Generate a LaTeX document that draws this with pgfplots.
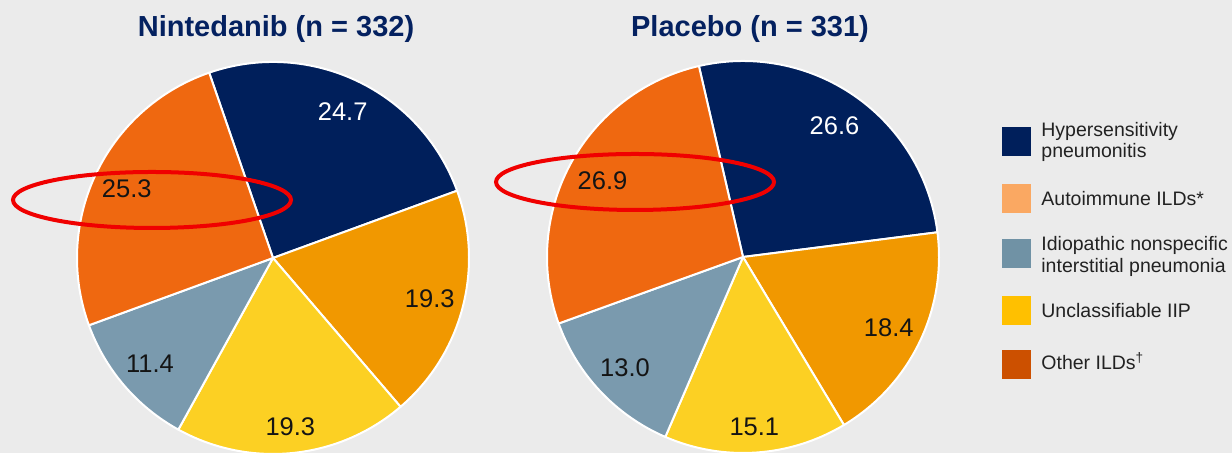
\documentclass[border=0pt]{standalone}
\usepackage{pgfplots}
\pgfplotsset{compat=1.18}
\usepackage{pgfplotstable}
\usepackage{fontspec}
\setmainfont{Liberation Sans}

\definecolor{bgc}{RGB}{235,235,235}
\definecolor{cNavy}{RGB}{0,31,91}
\definecolor{cAmber}{RGB}{241,152,0}
\definecolor{cYellow}{RGB}{252,208,35}
\definecolor{cGrey}{RGB}{122,154,174}
\definecolor{cOrange}{RGB}{239,104,16}
\definecolor{lNavy}{RGB}{0,31,91}
\definecolor{lLightOrange}{RGB}{250,168,98}
\definecolor{lGrey}{RGB}{112,146,165}
\definecolor{lYellow}{RGB}{255,192,0}
\definecolor{lDarkOrange}{RGB}{204,80,0}
\definecolor{titleNavy}{RGB}{4,33,96}
\definecolor{txt}{RGB}{34,34,34}
\definecolor{lab}{RGB}{20,20,20}
\definecolor{ringred}{RGB}{240,0,0}

% slice shares in %, clockwise from the first (navy) slice
\pgfplotstableread{
label nint plac
A 24.7 26.6
B 19.3 18.4
C 19.3 15.1
D 11.4 13.0
E 25.3 26.9
}\piedata

\newcommand\computepie[2]{%
  \pgfmathsetmacro\cur{#2}%
  \pgfplotsforeachungrouped \i in {0,...,4}{%
    \pgfplotstablegetelem{\i}{label}\of\piedata \let\lab\pgfplotsretval
    \pgfplotstablegetelem{\i}{#1}\of\piedata \let\val\pgfplotsretval
    \pgfmathsetmacro\nxt{\cur-3.6*\val}%
    \pgfmathsetmacro\midang{\cur-1.8*\val}%
    \expandafter\xdef\csname #1s\lab\endcsname{\cur}%
    \expandafter\xdef\csname #1e\lab\endcsname{\nxt}%
    \expandafter\xdef\csname #1m\lab\endcsname{\midang}%
    \expandafter\xdef\csname #1v\lab\endcsname{\val}%
    \global\let\cur\nxt
  }%
}
\computepie{nint}{109}
\computepie{plac}{103}

% cx, cy, start, end, mid, fill, text colour, label, label radius (pt)
\newcommand\pieslice[9]{%
  \filldraw[fill=#6, draw=white, line width=1pt, line join=round]
    (axis cs:#1,#2) -- ++(#3:98pt) arc[start angle=#3, end angle=#4, radius=98pt] -- cycle;
  \path (axis cs:#1,#2) ++(#5:#9) node[font=\fontsize{12.75}{14}\selectfont, text=#7] {#8};
}

\begin{document}
\begin{tikzpicture}
\begin{axis}[x=0.5pt, y=0.5pt, xmin=0, xmax=1232, ymin=0, ymax=453,
  hide axis, clip=true]
\fill[bgc] (axis cs:0,0) rectangle (axis cs:1232,453);

% Nintedanib
\pieslice{273}{195}{\nintsA}{\ninteA}{\nintmA}{cNavy}{white}{\nintvA}{81pt}
\pieslice{273}{195}{\nintsB}{\ninteB}{\nintmB}{cAmber}{lab}{\nintvB}{81pt}
\pieslice{273}{195}{\nintsC}{\ninteC}{\nintmC}{cYellow}{lab}{\nintvC}{85pt}
\pieslice{273}{195}{\nintsD}{\ninteD}{\nintmD}{cGrey}{lab}{\nintvD}{81pt}
\pieslice{273}{195}{\nintsE}{\ninteE}{\nintmE}{cOrange}{lab}{\nintvE}{81pt}

% Placebo
\pieslice{743}{196}{\placsA}{\placeA}{\placmA}{cNavy}{white}{\placvA}{80pt}
\pieslice{743}{196}{\placsB}{\placeB}{\placmB}{cAmber}{lab}{\placvB}{81pt}
\pieslice{743}{196}{\placsC}{\placeC}{\placmC}{cYellow}{lab}{\placvC}{85pt}
\pieslice{743}{196}{\placsD}{\placeD}{\placmD}{cGrey}{lab}{\placvD}{81pt}
\pieslice{743}{196}{\placsE}{\placeE}{\placmE}{cOrange}{lab}{\placvE}{80pt}

% titles
\node[anchor=base, text=titleNavy, font=\bfseries\fontsize{14.5}{17}\selectfont] at (axis cs:276,416) {Nintedanib (n = 332)};
\node[anchor=base, text=titleNavy, font=\bfseries\fontsize{14.5}{17}\selectfont] at (axis cs:750,416) {Placebo (n = 331)};

% highlight ellipses
\draw[ringred, line width=2pt] (axis cs:152,253) ellipse[x radius=69.5pt, y radius=14pt];
\draw[ringred, line width=2pt] (axis cs:635,271) ellipse[x radius=69.5pt, y radius=14pt];

% legend
\fill[lNavy] (axis cs:1002,297) rectangle (axis cs:1031,326);
\fill[lLightOrange] (axis cs:1002,240) rectangle (axis cs:1031,269);
\fill[lGrey] (axis cs:1002,185) rectangle (axis cs:1031,214);
\fill[lYellow] (axis cs:1002,128) rectangle (axis cs:1031,157);
\fill[lDarkOrange] (axis cs:1002,74) rectangle (axis cs:1031,103);
\begin{scope}[every node/.style={anchor=base west, inner sep=0pt, text=txt, font=\fontsize{9.75}{11}\selectfont}]
\node at (axis cs:1041,316) {Hypersensitivity};
\node at (axis cs:1041,295) {pneumonitis};
\node at (axis cs:1041,247) {Autoimmune ILDs*};
\node at (axis cs:1041,202) {Idiopathic nonspecific};
\node at (axis cs:1041,180) {interstitial pneumonia};
\node at (axis cs:1041,135) {Unclassifiable IIP};
\node at (axis cs:1041,83) {Other ILDs\textsuperscript{\dag}};
\end{scope}
\end{axis}
\end{tikzpicture}
\end{document}
